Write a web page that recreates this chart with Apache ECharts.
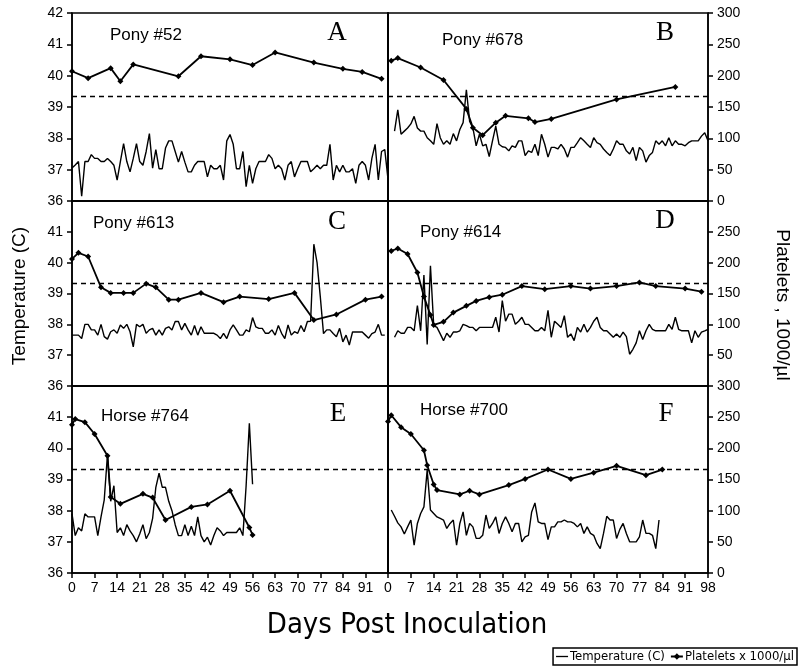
<!DOCTYPE html>
<html><head><meta charset="utf-8">
<script src="https://cdn.jsdelivr.net/npm/echarts@6/dist/echarts.min.js"></script>
<style>html,body{margin:0;padding:0;background:#fff}#c{width:800px;height:672px}</style>
</head><body><div id="c"></div>
<script>
// ---------------- DATA ----------------
const xTicks = [0,7,14,21,28,35,42,49,56,63,70,77,84,91,98];
const tempTicks = [36,37,38,39,40,41,42];
const plateletTicks = [0,50,100,150,200,250,300];
const thresholdTemp = 39.33;

const panelNames = ["Pony #52","Pony #678","Pony #613","Pony #614","Horse #764","Horse #700"];
const panelLetters = ["A","B","C","D","E","F"];

// temperature: daily values starting at given day
const tempStartA = 0;
const tempA = [37.05,37.15,37.26,36.15,37.26,37.26,37.48,37.36,37.36,37.26,
37.26,37.36,37.26,37.14,36.67,37.26,37.83,37.26,36.93,37.36,
37.83,37.26,37.14,37.58,38.15,37.05,37.64,37.03,37.03,37.69,
37.92,37.92,37.58,37.24,37.58,37.24,36.93,36.93,37.14,37.26,
37.26,37.26,36.77,37.14,37.03,37.03,37.14,36.67,37.92,38.12,
37.81,37.03,37.03,37.58,36.46,37.14,36.56,37.03,37.26,37.26,
37.26,37.48,37.36,37.03,37.14,37.03,36.67,37.14,37.26,36.77,
37.03,37.26,37.26,37.26,36.93,37.03,37.14,37.03,37.14,37.14,
37.81,36.67,37.14,36.93,37.14,36.93,36.93,37.03,36.56,37.14,
37.26,37.14,36.67,37.36,37.81,36.67,37.58,37.64,36.7];
const plateletDaysA = [0,5,12,15,19,33,40,49,56,63,75,84,90,96];
const plateletsA = [207,196,212,191,218,199,231,226,217,237,221,211,206,195];

const tempStartB = 2;
const tempB = [38.23,38.91,38.13,38.23,38.33,38.46,38.70,38.33,38.23,38.23,
38.02,37.92,37.81,38.47,38.02,37.81,37.92,37.81,38.15,37.92,
38.28,38.5,39.55,38.54,38.33,37.76,38.13,37.76,37.81,37.42,
37.92,38.39,37.81,37.73,37.71,37.6,37.76,37.71,37.92,37.92,
37.45,37.6,37.55,37.81,37.45,38.13,37.81,37.4,37.71,37.71,
37.66,37.81,37.66,37.4,37.71,37.71,37.86,38.02,37.92,37.81,
37.71,38.02,37.86,37.81,37.66,37.55,37.45,37.66,37.92,37.81,
37.81,37.6,37.5,37.71,37.29,37.71,37.6,37.24,37.45,37.55,
37.92,37.81,37.92,37.76,38.02,37.76,37.92,37.81,37.81,37.76,
37.86,37.92,37.92,37.92,38.07,38.18,37.92];
const plateletDaysB = [1,3,10,17,24,26,29,33,36,43,45,50,70,88];
const plateletsB = [224,228,213,193,147,117,105,125,136,132,126,131,162,182];

const tempStartC = 0;
const tempC = [37.65,37.65,37.65,37.54,38.0,38.0,37.82,37.82,37.65,38.0,
37.6,37.52,37.76,37.82,37.71,37.98,37.87,38.0,37.76,37.27,
38.0,37.92,38.0,37.71,37.82,37.87,37.65,37.82,37.65,37.87,
37.92,37.82,38.09,38.09,37.82,38.03,37.82,37.65,37.96,37.65,
37.92,37.71,37.71,37.71,37.71,37.65,37.54,37.71,37.54,37.82,
37.98,37.82,37.65,37.65,37.82,37.76,38.22,37.92,37.87,37.87,
37.71,37.71,37.82,37.65,37.96,37.71,37.54,37.98,37.65,37.76,
37.71,37.96,37.76,38.09,38.1,40.6,40.0,38.9,37.7,37.82,
37.82,37.7,37.6,37.87,37.43,37.65,37.33,37.75,37.75,37.75,
37.75,37.65,37.55,37.7,37.75,38.0,37.65,37.65];
const plateletDaysC = [0,2,5,9,12,16,19,23,26,30,33,40,47,52,61,69,75,82,91,96];
const plateletsC = [206,216,210,160,151,151,151,166,160,140,140,151,136,145,141,151,107,116,140,145];

const tempStartD = 2;
const tempD = [37.58,37.79,37.71,37.71,37.9,37.9,37.79,38.61,37.79,39.6,
37.35,39.9,37.96,37.9,37.69,37.47,37.71,37.58,37.75,37.75,
37.79,38.0,37.96,37.9,37.9,37.79,37.9,37.9,37.9,37.9,
37.9,38.23,37.75,38.77,38.1,38.33,38.33,38.0,38.1,38.23,
38.0,38.0,37.9,37.79,37.79,37.9,37.79,38.45,37.58,38.1,
38.0,37.9,38.28,37.58,37.69,37.47,37.9,37.75,38.0,37.75,
37.9,38.1,38.23,37.9,37.79,37.79,37.69,37.58,37.69,37.58,
37.75,37.6,37.03,37.19,37.4,37.79,37.51,37.79,38.0,37.84,
37.79,37.79,37.79,37.79,38.0,37.84,38.23,37.84,37.79,37.79,
37.79,37.4,37.79,37.58,37.75,37.79,37.84];
const plateletDaysD = [1,3,6,9,11,13,14,17,20,24,27,31,35,41,48,56,62,70,77,82,91,96];
const plateletsD = [219,223,214,184,145,115,99,104,119,130,138,144,148,162,157,162,158,162,168,162,158,153];

const tempStartE = 0;
const tempE = [37.9,37.2,37.45,37.35,37.9,37.8,37.8,37.8,37.2,37.8,
38.35,39.8,38.3,38.8,37.3,37.45,37.2,37.55,37.35,37.2,
37.0,37.25,37.55,37.1,37.3,37.75,38.75,39.2,38.75,38.75,
38.3,38.0,37.55,37.2,37.2,37.55,37.2,37.5,37.2,37.8,
37.2,37.0,37.15,36.9,37.2,37.45,37.35,37.2,37.3,37.3,
37.3,37.3,37.45,37.2,38.8,40.8,38.85];
const plateletDaysE = [0,1,4,7,11,12,15,22,25,29,37,42,49,55,56];
const plateletsE = [238,247,242,223,188,122,111,127,121,85,106,110,132,73,61];

const tempStartF = 1;
const tempF = [38.02,37.82,37.61,37.48,37.25,37.48,37.7,36.89,37.59,37.91,
38.12,39.3,38.02,37.91,37.8,37.75,37.7,37.43,37.59,37.7,
36.89,37.59,37.96,37.21,37.59,37.48,37.11,37.11,37.21,37.86,
37.43,37.59,37.8,37.27,37.59,37.8,37.59,37.32,37.59,37.59,
37.0,37.16,37.21,37.96,38.25,37.64,37.59,37.59,37.07,37.48,
37.48,37.64,37.64,37.7,37.64,37.64,37.59,37.48,37.59,37.27,
37.48,37.27,37.21,36.95,36.78,37.27,37.82,37.7,37.7,37.11,
37.4,37.59,37.27,37.0,37.0,37.0,37.16,37.7,37.27,37.27,
37.21,36.78,37.7];
const plateletDaysF = [0,1,4,7,11,12,14,15,22,25,28,37,42,49,56,63,70,79,84];
const plateletsF = [243,253,234,223,197,173,142,133,126,132,126,141,151,166,151,161,172,157,166];

// ---------------- BUILD ----------------
const panels = [
  {t:tempA, ts:tempStartA, pd:plateletDaysA, p:plateletsA},
  {t:tempB, ts:tempStartB, pd:plateletDaysB, p:plateletsB},
  {t:tempC, ts:tempStartC, pd:plateletDaysC, p:plateletsC},
  {t:tempD, ts:tempStartD, pd:plateletDaysD, p:plateletsD},
  {t:tempE, ts:tempStartE, pd:plateletDaysE, p:plateletsE},
  {t:tempF, ts:tempStartF, pd:plateletDaysF, p:plateletsF}
];

const gridBoxes = [
  {left:72, top:13, width:316, height:188},
  {left:388, top:13, width:320, height:188},
  {left:72, top:201, width:316, height:185},
  {left:388, top:201, width:320, height:185},
  {left:72, top:386, width:316, height:187},
  {left:388, top:386, width:320, height:187}
];

const FONT = "'Liberation Sans', Arial, sans-serif";
const NARROW = "'Liberation Sans Narrow','DejaVu Sans Condensed','Liberation Sans',sans-serif";
const lineBlack = {color:'#000', width:1.5};

const grid = gridBoxes.map(b => Object.assign({show:true, borderColor:'#000', borderWidth:1.5, backgroundColor:'transparent'}, b));

const xAxis = [], yAxis = [], series = [];
panels.forEach((pn, g) => {
  const row = Math.floor(g/2), col = g%2;
  const bottom = row === 2;
  xAxis.push({
    type:'value', gridIndex:g, min:xTicks[0], max:xTicks[xTicks.length-1], interval:7,
    axisLine:{show:true, lineStyle:lineBlack},
    axisTick:{show:bottom, inside:false, length:5, lineStyle:lineBlack},
    axisLabel:{show:bottom, margin:8, color:'#000', fontFamily:FONT, fontSize:14,
      formatter:v => (col===0 && v===98) ? '' : String(v)},
    splitLine:{show:false}
  });
  yAxis.push({
    type:'value', gridIndex:g, position:'left', min:tempTicks[0], max:tempTicks[tempTicks.length-1], interval:1,
    axisLine:{show:true, lineStyle:lineBlack},
    axisTick:{show:col===0, inside:false, length:5, lineStyle:lineBlack},
    axisLabel:{show:col===0, margin:9, color:'#000', fontFamily:FONT, fontSize:14,
      formatter:v => (row>0 && v===42) ? '' : String(v)},
    splitLine:{show:false}
  });
  yAxis.push({
    type:'value', gridIndex:g, position:'right', min:plateletTicks[0], max:plateletTicks[plateletTicks.length-1], interval:50,
    axisLine:{show:true, lineStyle:lineBlack},
    axisTick:{show:col===1, inside:false, length:5, lineStyle:lineBlack},
    axisLabel:{show:col===1, margin:9, color:'#000', fontFamily:FONT, fontSize:14,
      formatter:v => (row===1 && (v===0 || v===300)) ? '' : String(v)},
    splitLine:{show:false}
  });
  series.push({
    name:'Temperature (C)', type:'line', xAxisIndex:g, yAxisIndex:2*g,
    data: pn.t.map((v,i) => [pn.ts + i, v]),
    symbol:'none', lineStyle:{color:'#000', width:1.4}, itemStyle:{color:'#000'},
    markLine:{silent:true, symbol:'none', label:{show:false},
      lineStyle:{type:[5,4], color:'#000', width:1.3},
      data:[{yAxis:thresholdTemp}]}
  });
  series.push({
    name:'Platelets x 1000/µl', type:'line', xAxisIndex:g, yAxisIndex:2*g+1,
    data: pn.pd.map((d,i) => [d, pn.p[i]]),
    symbol:'diamond', symbolSize:6, lineStyle:{color:'#000', width:1.8}, itemStyle:{color:'#000'}
  });
});

const nameSpots = [[110,35],[442,40],[93,223],[420,232],[101,416],[420,410]];
const letterSpots = [[337,33],[665,33],[337,222],[665,221],[338,414],[666,414]];
const graphic = [];
panelNames.forEach((n,i) => graphic.push({type:'text', x:nameSpots[i][0], y:nameSpots[i][1],
  style:{text:n, fontFamily:FONT, fontSize:17, fill:'#000', align:'left', verticalAlign:'middle'}}));
panelLetters.forEach((n,i) => graphic.push({type:'text', x:letterSpots[i][0], y:letterSpots[i][1],
  style:{text:n, fontFamily:"'Liberation Serif','DejaVu Serif',serif", fontSize:27, fill:'#000', align:'center', verticalAlign:'middle'}}));
graphic.push({type:'text', x:20, y:296, rotation:Math.PI/2,
  style:{text:'Temperature (C)', fontFamily:FONT, fontSize:19, fill:'#000', align:'center', verticalAlign:'middle'}});
graphic.push({type:'text', x:782, y:305, rotation:-Math.PI/2,
  style:{text:'Platelets , 1000/µl', fontFamily:FONT, fontSize:19, fill:'#000', align:'center', verticalAlign:'middle'}});
graphic.push({type:'text', x:407, y:625,
  style:{text:'Days Post Inoculation', fontFamily:NARROW, fontSize:29, fill:'#000', align:'center', verticalAlign:'middle'}});

const chart = echarts.init(document.getElementById('c'));
chart.setOption({
  animation:false,
  backgroundColor:'#fff',
  grid, xAxis, yAxis, series, graphic,
  legend:{
    orient:'horizontal', right:3, top:648, width:400,
    data:[{name:'Temperature (C)', icon:'path://M0,0 L20,0 L20,2.2 L0,2.2 Z'}, {name:'Platelets x 1000/µl'}],
    padding:[2,3], itemGap:5, itemWidth:12, itemHeight:8,
    borderColor:'#000', borderWidth:1.5,
    textStyle:{fontFamily:NARROW, fontSize:13, color:'#000', padding:[0,0,0,-3]}
  }
});
</script></body></html>
